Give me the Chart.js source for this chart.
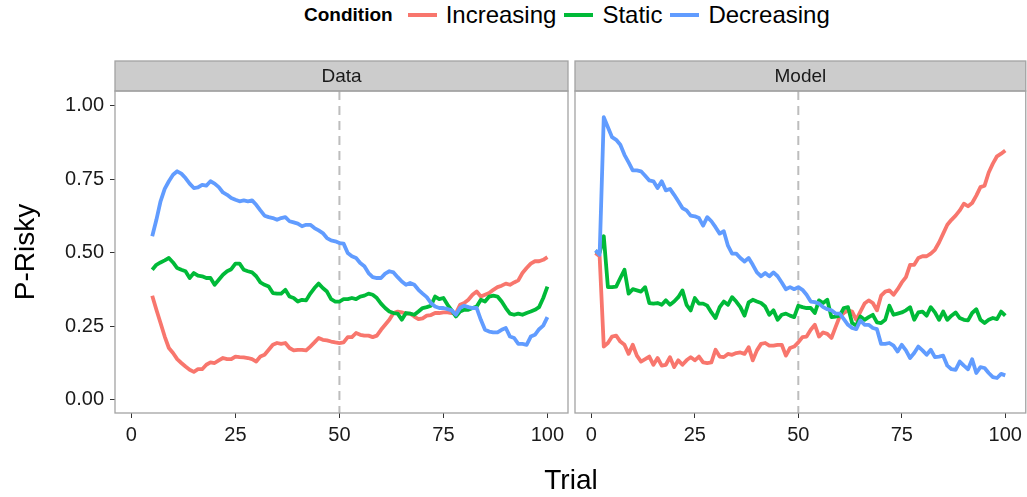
<!DOCTYPE html>
<html>
<head>
<meta charset="utf-8">
<script src="https://cdn.jsdelivr.net/npm/chart.js@4/dist/chart.umd.min.js"></script>
<style>
  body { margin: 0; background: #fff; font-family: "Liberation Sans", Arial, sans-serif; }
  #wrap { position: relative; width: 1027px; height: 497px; overflow: hidden; }
  .cv { position: absolute; }
  #legend { position: absolute; left: 304px; top: 0; height: 30px; display: flex; align-items: center; color: #000; }
  #legend .ttl { font-weight: bold; font-size: 19px; margin-right: 15px; }
  #legend .sw { width: 29px; height: 4px; margin-right: 9px; }
  #legend .lb { font-size: 24px; margin-right: 8px; }
  #xtitle { position: absolute; left: 471px; width: 200px; top: 464px; text-align: center; font-size: 28px; color: #000; }
  #ytitle { position: absolute; left: -75px; width: 200px; top: 236px; text-align: center; font-size: 28px; color: #000; transform: rotate(-90deg); }
</style>
</head>
<body>
<div id="wrap">
  <div id="legend"></div>
  <canvas id="left" class="cv" style="left:0px; top:58px;" width="570" height="439"></canvas>
  <canvas id="right" class="cv" style="left:573px; top:58px;" width="454" height="439"></canvas>
  <div id="xtitle">Trial</div>
  <div id="ytitle">P-Risky</div>
</div>
<script>
// series names and colours
const conditions = ['Increasing', 'Static', 'Decreasing'];
const colors = ['#F8766D', '#00BA38', '#619CFF'];
const panels = ['Data', 'Model'];

// axis ticks
const xTicks = [0, 25, 50, 75, 100];
const yTicks = [0, 0.25, 0.5, 0.75, 1];
const yTickLabels = ['0.00', '0.25', '0.50', '0.75', '1.00'];
const switchTrial = 50;

// Data panel: trials 5..100
const dataTrials = [5,6,7,8,9,10,11,12,13,14,15,16,17,18,19,20,21,22,23,24,25,26,27,28,29,30,31,32,33,34,35,36,37,38,39,40,41,42,43,44,45,46,47,48,49,50,51,52,53,54,55,56,57,58,59,60,61,62,63,64,65,66,67,68,69,70,71,72,73,74,75,76,77,78,79,80,81,82,83,84,85,86,87,88,89,90,91,92,93,94,95,96,97,98,99,100];
const dataIncreasing = [0.354,0.306,0.261,0.215,0.176,0.159,0.138,0.125,0.113,0.102,
  0.095,0.104,0.104,0.119,0.127,0.125,0.134,0.142,0.138,0.138,
  0.147,0.145,0.144,0.142,0.138,0.130,0.147,0.153,0.170,0.187,
  0.193,0.190,0.193,0.176,0.168,0.170,0.170,0.168,0.181,0.195,
  0.210,0.204,0.202,0.198,0.195,0.193,0.195,0.213,0.213,0.227,
  0.221,0.218,0.218,0.213,0.218,0.238,0.255,0.272,0.295,0.300,
  0.297,0.293,0.293,0.283,0.274,0.277,0.286,0.288,0.295,0.295,
  0.297,0.297,0.295,0.293,0.323,0.329,0.340,0.357,0.368,0.351,
  0.357,0.363,0.374,0.383,0.388,0.395,0.391,0.399,0.406,0.431,
  0.448,0.463,0.471,0.471,0.476,0.485];
const dataStatic = [0.442,0.459,0.467,0.474,0.482,0.467,0.448,0.442,0.437,0.414,
  0.431,0.422,0.420,0.414,0.414,0.391,0.408,0.425,0.437,0.444,
  0.463,0.463,0.442,0.437,0.433,0.420,0.399,0.391,0.385,0.363,
  0.361,0.361,0.374,0.351,0.346,0.334,0.340,0.338,0.361,0.380,
  0.395,0.380,0.368,0.342,0.334,0.334,0.342,0.342,0.346,0.342,
  0.351,0.354,0.361,0.357,0.346,0.327,0.312,0.300,0.295,0.293,
  0.272,0.295,0.293,0.289,0.300,0.312,0.315,0.320,0.351,0.342,
  0.346,0.323,0.304,0.283,0.300,0.306,0.306,0.312,0.317,0.340,
  0.334,0.351,0.354,0.351,0.334,0.312,0.293,0.289,0.293,0.289,
  0.295,0.300,0.306,0.315,0.346,0.385];
const dataDecreasing = [0.556,0.612,0.675,0.717,0.743,0.765,0.777,0.769,0.754,0.735,
  0.720,0.722,0.731,0.728,0.743,0.735,0.723,0.705,0.697,0.686,
  0.680,0.675,0.678,0.675,0.678,0.663,0.644,0.626,0.621,0.618,
  0.612,0.618,0.621,0.607,0.603,0.599,0.590,0.595,0.595,0.584,
  0.576,0.567,0.550,0.542,0.539,0.533,0.531,0.499,0.488,0.482,
  0.465,0.454,0.431,0.417,0.414,0.414,0.429,0.437,0.433,0.417,
  0.402,0.391,0.397,0.391,0.374,0.361,0.349,0.329,0.317,0.312,
  0.312,0.308,0.304,0.289,0.312,0.320,0.315,0.312,0.312,0.272,
  0.238,0.232,0.229,0.229,0.238,0.244,0.215,0.210,0.190,0.190,
  0.187,0.215,0.221,0.240,0.252,0.281];

// Model panel: trials 1..100
const modelTrials = [1,2,3,4,5,6,7,8,9,10,11,12,13,14,15,16,17,18,19,20,21,22,23,24,25,26,27,28,29,30,31,32,33,34,35,36,37,38,39,40,41,42,43,44,45,46,47,48,49,50,51,52,53,54,55,56,57,58,59,60,61,62,63,64,65,66,67,68,69,70,71,72,73,74,75,76,77,78,79,80,81,82,83,84,85,86,87,88,89,90,91,92,93,94,95,96,97,98,99,100];
const modelIncreasing = [0.499,0.488,0.181,0.193,0.215,0.218,0.198,0.187,0.156,0.187,
  0.150,0.130,0.138,0.147,0.119,0.142,0.116,0.119,0.145,0.111,
  0.134,0.119,0.134,0.145,0.134,0.147,0.127,0.125,0.127,0.170,
  0.147,0.145,0.156,0.153,0.159,0.161,0.156,0.179,0.134,0.168,
  0.190,0.193,0.184,0.184,0.187,0.187,0.150,0.176,0.181,0.195,
  0.213,0.215,0.238,0.255,0.215,0.229,0.224,0.210,0.247,0.283,
  0.295,0.304,0.300,0.272,0.300,0.327,0.338,0.329,0.304,0.354,
  0.368,0.372,0.357,0.376,0.399,0.417,0.459,0.459,0.482,0.488,
  0.488,0.497,0.510,0.535,0.565,0.595,0.612,0.626,0.644,0.667,
  0.658,0.669,0.694,0.723,0.728,0.773,0.803,0.828,0.837,0.848];
const modelStatic = [0.505,0.500,0.556,0.383,0.383,0.385,0.414,0.442,0.361,0.376,
  0.372,0.368,0.383,0.329,0.327,0.329,0.323,0.338,0.323,0.334,
  0.349,0.372,0.323,0.304,0.346,0.327,0.327,0.320,0.297,0.278,
  0.315,0.334,0.323,0.349,0.334,0.315,0.286,0.331,0.340,0.334,
  0.329,0.317,0.289,0.304,0.272,0.289,0.293,0.286,0.281,0.320,
  0.315,0.312,0.312,0.295,0.338,0.329,0.340,0.281,0.283,0.286,
  0.312,0.315,0.261,0.252,0.283,0.272,0.281,0.289,0.263,0.261,
  0.272,0.320,0.289,0.293,0.297,0.304,0.315,0.272,0.297,0.300,
  0.286,0.315,0.297,0.272,0.300,0.272,0.286,0.297,0.278,0.272,
  0.270,0.295,0.308,0.272,0.261,0.272,0.278,0.274,0.300,0.286];
const modelDecreasing = [0.508,0.493,0.961,0.927,0.893,0.884,0.867,0.833,0.807,0.780,
  0.780,0.777,0.762,0.746,0.743,0.720,0.743,0.712,0.717,0.697,
  0.675,0.652,0.644,0.626,0.624,0.618,0.592,0.621,0.607,0.587,
  0.565,0.573,0.524,0.497,0.497,0.482,0.470,0.482,0.459,0.433,
  0.420,0.431,0.420,0.433,0.420,0.399,0.376,0.383,0.376,0.383,
  0.374,0.357,0.334,0.332,0.327,0.315,0.308,0.304,0.293,0.293,
  0.274,0.255,0.244,0.240,0.270,0.255,0.255,0.244,0.240,0.190,
  0.190,0.193,0.184,0.164,0.187,0.168,0.142,0.159,0.181,0.168,
  0.153,0.170,0.145,0.147,0.150,0.116,0.104,0.102,0.130,0.116,
  0.104,0.138,0.091,0.111,0.108,0.091,0.077,0.074,0.088,0.083];

const FONT = '"Liberation Sans", Arial, sans-serif';

// legend (html)
const legend = document.getElementById('legend');
legend.innerHTML = '<span class="ttl">Condition</span>' + conditions.map((c, i) =>
  `<span class="sw" style="background:${colors[i]}"></span><span class="lb">${c}</span>`
).join('');

function makeDatasets(trials, series) {
  return series.map((vals, i) => ({
    label: conditions[i],
    data: trials.map((t, k) => ({ x: t, y: vals[k] })),
    borderColor: colors[i],
    backgroundColor: colors[i],
    borderWidth: 3.8,
    pointRadius: 0,
    tension: 0,
    borderJoinStyle: 'round',
    order: 3 - i
  }));
}

// strip, panel border and dashed line at trial 50
const facetPlugin = {
  id: 'facet',
  beforeDatasetsDraw(chart) {
    const { ctx, chartArea: a, scales } = chart;
    const x = scales.x.getPixelForValue(switchTrial);
    ctx.save();
    ctx.strokeStyle = '#BDBDBD';
    ctx.lineWidth = 2;
    ctx.setLineDash([9, 6]);
    ctx.beginPath();
    ctx.moveTo(x, a.top);
    ctx.lineTo(x, a.bottom);
    ctx.stroke();
    ctx.restore();
  },
  afterDraw(chart) {
    const { ctx, chartArea: a } = chart;
    const name = chart.options.plugins.facet.name;
    ctx.save();
    ctx.fillStyle = '#CCCCCC';
    ctx.fillRect(a.left, 3, a.right - a.left, a.top - 3);
    ctx.strokeStyle = '#A3A3A3';
    ctx.lineWidth = 1.3;
    ctx.strokeRect(a.left, 3, a.right - a.left, a.top - 3);
    ctx.strokeRect(a.left, a.top, a.right - a.left, a.bottom - a.top);
    ctx.fillStyle = '#1a1a1a';
    ctx.font = '19px ' + FONT;
    ctx.textAlign = 'center';
    ctx.textBaseline = 'middle';
    ctx.fillText(name, (a.left + a.right) / 2, (3 + a.top) / 2 + 1);
    ctx.restore();
  }
};

function makeChart(id, name, trials, series, showY, pad) {
  return new Chart(document.getElementById(id), {
    type: 'line',
    data: { datasets: makeDatasets(trials, series) },
    plugins: [facetPlugin],
    options: {
      responsive: false,
      animation: false,
      layout: { padding: pad, autoPadding: false },
      plugins: { legend: { display: false }, tooltip: { enabled: false }, facet: { name } },
      scales: {
        x: {
          type: 'linear', min: -3.95, max: 104.95,
          afterBuildTicks: s => { s.ticks = xTicks.map(v => ({ value: v })); },
          afterFit: s => { s.height = 84; },
          grid: { drawOnChartArea: false, drawTicks: true, tickLength: 5, color: '#333', lineWidth: 1 },
          border: { display: false },
          ticks: { color: '#1a1a1a', font: { size: 20, family: FONT }, padding: 5, maxRotation: 0,
                   callback: v => String(v) }
        },
        y: {
          display: showY,
          min: -0.045, max: 1.05,
          afterBuildTicks: s => { s.ticks = yTicks.map(v => ({ value: v })); },
          afterFit: s => { s.width = showY ? 115 : 0; },
          grid: { drawOnChartArea: false, drawTicks: true, tickLength: 5, color: '#333', lineWidth: 1 },
          border: { display: false },
          ticks: { color: '#1a1a1a', font: { size: 20, family: FONT }, padding: 6,
                   callback: v => yTickLabels[yTicks.indexOf(v)] }
        }
      }
    }
  });
}

makeChart('left', panels[0], dataTrials, [dataIncreasing, dataStatic, dataDecreasing], true,
  { top: 33, left: 0, right: 2, bottom: 0 });
makeChart('right', panels[1], modelTrials, [modelIncreasing, modelStatic, modelDecreasing], false,
  { top: 33, left: 2, right: 1, bottom: 0 });
</script>
</body>
</html>
